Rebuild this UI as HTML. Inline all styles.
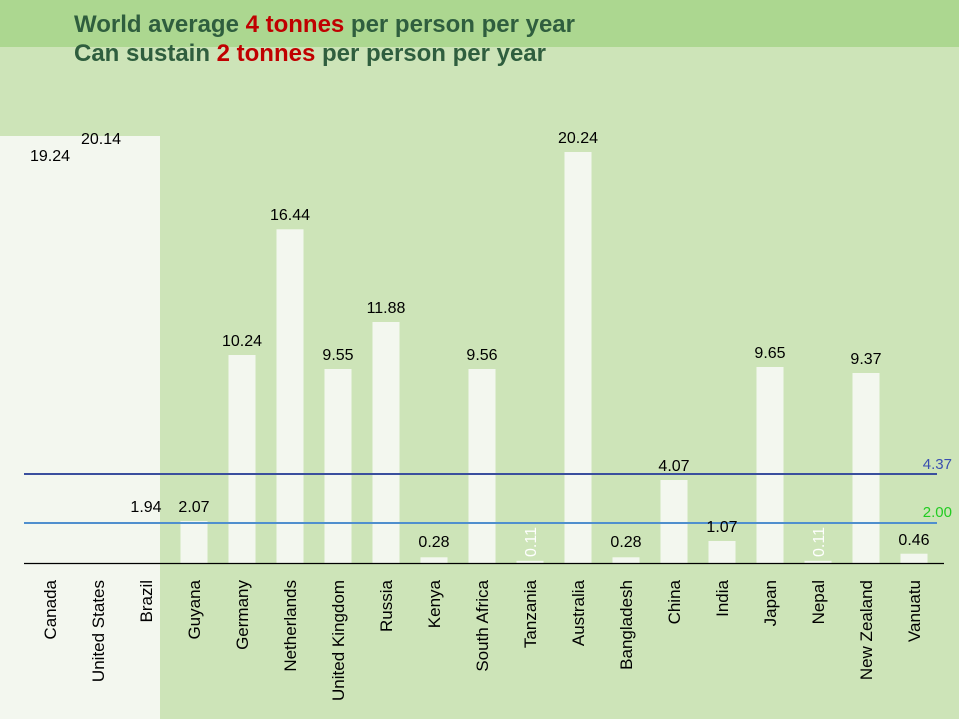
<!DOCTYPE html>
<html><head><meta charset="utf-8"><style>
html,body{margin:0;padding:0;background:#cde4b8}
svg{display:block}
text{font-family:"Liberation Sans",Arial,sans-serif}
</style></head><body>
<svg width="959" height="719" viewBox="0 0 959 719" xmlns="http://www.w3.org/2000/svg">
<rect width="959" height="719" fill="#cde4b8"/>
<rect width="959" height="47" fill="#acd790"/>
<rect x="0" y="136" width="160" height="583" fill="#f3f7ef"/>
<text x="74" y="32" font-size="24" font-weight="bold" fill="#2f5e3e" textLength="501">World average <tspan fill="#c00000">4 tonnes</tspan> per person per year</text>
<text x="74" y="61" font-size="24" font-weight="bold" fill="#2f5e3e" textLength="472">Can sustain <tspan fill="#c00000">2 tonnes</tspan> per person per year</text>
<g id="bars" fill="#f3f7ef">
<rect x="180.5" y="521" width="27" height="42"/>
<rect x="228.5" y="355" width="27" height="208"/>
<rect x="276.5" y="229.3" width="27" height="333.7"/>
<rect x="324.5" y="369" width="27" height="194"/>
<rect x="372.5" y="322" width="27" height="241"/>
<rect x="420.5" y="557.3" width="27" height="5.7"/>
<rect x="468.5" y="369" width="27" height="194"/>
<rect x="516.5" y="560.8" width="27" height="2.2"/>
<rect x="564.5" y="152" width="27" height="411"/>
<rect x="612.5" y="557.3" width="27" height="5.7"/>
<rect x="660.5" y="480" width="27" height="83"/>
<rect x="708.5" y="541" width="27" height="22"/>
<rect x="756.5" y="367" width="27" height="196"/>
<rect x="804.5" y="560.8" width="27" height="2.2"/>
<rect x="852.5" y="373" width="27" height="190"/>
<rect x="900.5" y="553.7" width="27" height="9.3"/>
</g>
<line x1="24" y1="474" x2="937" y2="474" stroke="#3a4f9e" stroke-width="2"/>
<line x1="24" y1="523" x2="937" y2="523" stroke="#4f8fce" stroke-width="2"/>
<line x1="24" y1="563.5" x2="944" y2="563.5" stroke="#000" stroke-width="1.2"/>
<text x="952" y="469" font-size="15" fill="#3a4fb0" text-anchor="end">4.37</text>
<text x="952" y="517" font-size="15" fill="#22cc22" text-anchor="end">2.00</text>
<g font-size="16" fill="#000" text-anchor="middle">
<text x="50" y="161">19.24</text>
<text x="101" y="144">20.14</text>
<text x="146" y="512">1.94</text>
<text x="194" y="512">2.07</text>
<text x="242" y="346">10.24</text>
<text x="290" y="220">16.44</text>
<text x="338" y="360">9.55</text>
<text x="386" y="313">11.88</text>
<text x="434" y="547">0.28</text>
<text x="482" y="360">9.56</text>
<text x="578" y="143">20.24</text>
<text x="626" y="547">0.28</text>
<text x="674" y="471">4.07</text>
<text x="722" y="532">1.07</text>
<text x="770" y="358">9.65</text>
<text x="866" y="364">9.37</text>
<text x="914" y="545">0.46</text>
</g>
<g font-size="16" fill="#ffffff" text-anchor="middle">
<text transform="translate(536,542) rotate(-90)">0.11</text>
<text transform="translate(824,542) rotate(-90)">0.11</text>
</g>
<g font-size="17" fill="#000" text-anchor="end">
<text transform="translate(56,580) rotate(-90)">Canada</text>
<text transform="translate(104,580) rotate(-90)">United States</text>
<text transform="translate(152,580) rotate(-90)">Brazil</text>
<text transform="translate(200,580) rotate(-90)">Guyana</text>
<text transform="translate(248,580) rotate(-90)">Germany</text>
<text transform="translate(296,580) rotate(-90)">Netherlands</text>
<text transform="translate(344,580) rotate(-90)">United Kingdom</text>
<text transform="translate(392,580) rotate(-90)">Russia</text>
<text transform="translate(440,580) rotate(-90)">Kenya</text>
<text transform="translate(488,580) rotate(-90)">South Africa</text>
<text transform="translate(536,580) rotate(-90)">Tanzania</text>
<text transform="translate(584,580) rotate(-90)">Australia</text>
<text transform="translate(632,580) rotate(-90)">Bangladesh</text>
<text transform="translate(680,580) rotate(-90)">China</text>
<text transform="translate(728,580) rotate(-90)">India</text>
<text transform="translate(776,580) rotate(-90)">Japan</text>
<text transform="translate(824,580) rotate(-90)">Nepal</text>
<text transform="translate(872,580) rotate(-90)">New Zealand</text>
<text transform="translate(920,580) rotate(-90)">Vanuatu</text>
</g>
</svg>
</body></html>
